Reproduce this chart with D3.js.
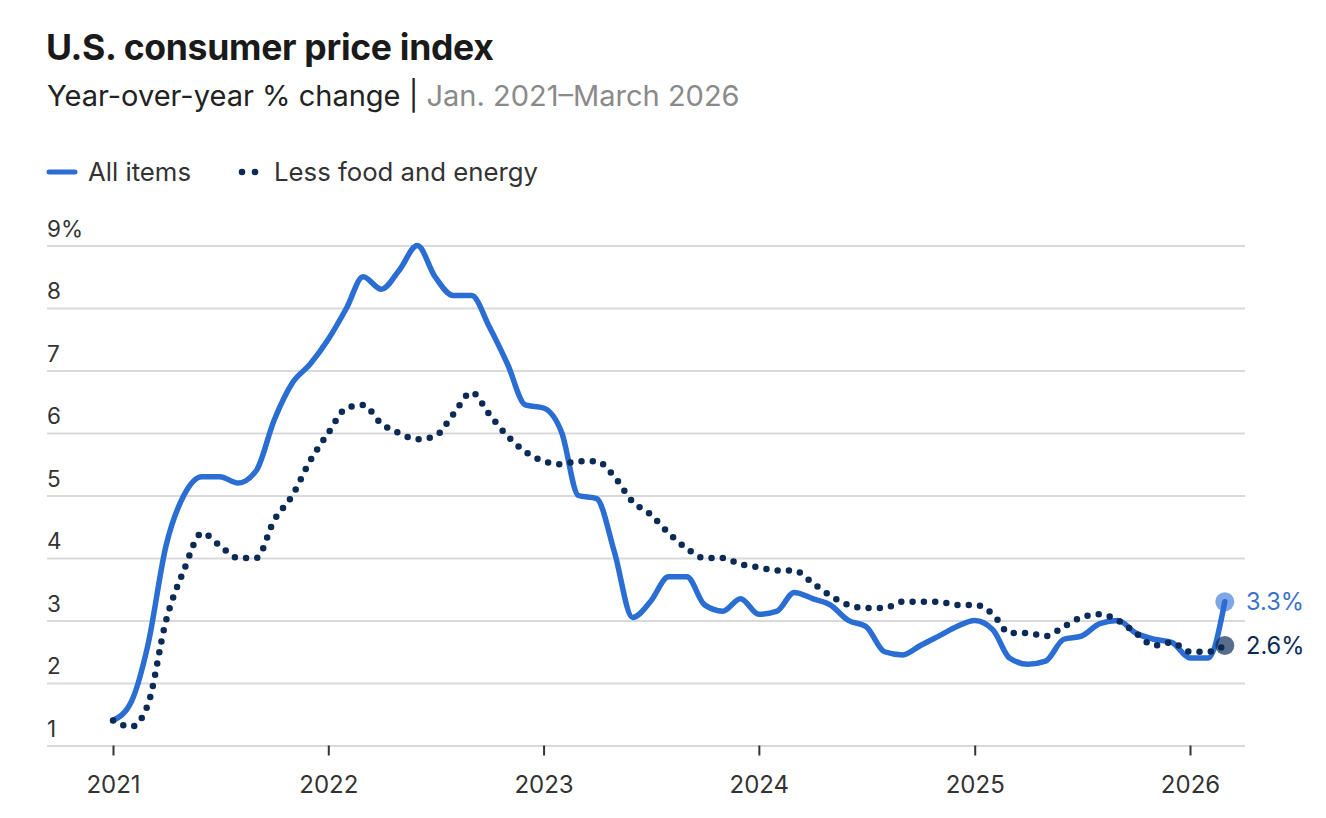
<!DOCTYPE html>
<html>
<head>
<meta charset="utf-8">
<script src="https://cdn.jsdelivr.net/npm/d3@7"></script>
<style>
  body { margin: 0; background: #fff; }
  svg { display: block; font-family: Inter, Lato, "Noto Sans", sans-serif; }
</style>
</head>
<body>
<div id="chart"></div>
<script>
// months Jan. 2021 - March 2026
const months = [
    "2021-01","2021-02","2021-03","2021-04","2021-05","2021-06","2021-07","2021-08","2021-09","2021-10","2021-11","2021-12",
    "2022-01","2022-02","2022-03","2022-04","2022-05","2022-06","2022-07","2022-08","2022-09","2022-10","2022-11","2022-12",
    "2023-01","2023-02","2023-03","2023-04","2023-05","2023-06","2023-07","2023-08","2023-09","2023-10","2023-11","2023-12",
    "2024-01","2024-02","2024-03","2024-04","2024-05","2024-06","2024-07","2024-08","2024-09","2024-10","2024-11","2024-12",
    "2025-01","2025-02","2025-03","2025-04","2025-05","2025-06","2025-07","2025-08","2025-09","2025-10","2025-11","2025-12",
    "2026-01","2026-02","2026-03"
];

// all items, yoy %
const allItems = [
    1.4, 1.7, 2.6, 4.2, 5.0, 5.3, 5.3, 5.2, 5.4, 6.2, 6.8, 7.1,
    7.5, 8.0, 8.5, 8.3, 8.6, 9.0, 8.5, 8.2, 8.2, 7.7, 7.1, 6.45,
    6.4, 6.0, 5.0, 4.95, 4.1, 3.05, 3.3, 3.7, 3.7, 3.25, 3.15, 3.35,
    3.1, 3.15, 3.45, 3.35, 3.25, 3.0, 2.9, 2.5, 2.45, 2.6, 2.75, 2.9,
    3.0, 2.85, 2.4, 2.3, 2.35, 2.7, 2.75, 2.95, 3.0, 2.8, 2.7, 2.65,
    2.4, 2.4, 3.3
];

// less food and energy, yoy %
const coreItems = [
    1.4, 1.3, 1.65, 3.0, 3.8, 4.4, 4.2, 4.0, 4.0, 4.6, 5.0, 5.55,
    6.0, 6.4, 6.45, 6.15, 6.0, 5.9, 5.95, 6.3, 6.65, 6.3, 5.95, 5.7,
    5.55, 5.5, 5.55, 5.55, 5.3, 4.9, 4.7, 4.4, 4.15, 4.0, 4.0, 3.9,
    3.85, 3.8, 3.8, 3.6, 3.4, 3.25, 3.2, 3.2, 3.3, 3.3, 3.3, 3.25,
    3.25, 3.1, 2.8, 2.8, 2.75, 2.9, 3.05, 3.1, 3.0, 2.8, 2.6, 2.65,
    2.5, 2.5, 2.6
];

const yTicks = [1, 2, 3, 4, 5, 6, 7, 8, 9];
const xTicks = ["2021", "2022", "2023", "2024", "2025", "2026"];

const seriesNames = ["All items", "Less food and energy"];
const titleText = "U.S. consumer price index";
const subtitleMain = "Year-over-year % change | ";
const subtitleRange = "Jan. 2021\u2013March 2026";

const width = 1326, height = 818;
const plot = {left: 47, right: 1245, x0: 113, x1: 1190, top: 245.5, bottom: 745.5};

const blue = "#2a6dd3";
const navy = "#0b2a55";
const parseMonth = d3.timeParse("%Y-%m");
const parseYear = d3.timeParse("%Y");

const data = months.map((m, i) => ({date: parseMonth(m), all: allItems[i], core: coreItems[i]}));

// scale a text's font size so it spans the width seen in the reference
function fitWidth(sel, target) {
    const w = sel.node().getComputedTextLength();
    const fs = parseFloat(sel.style("font-size"));
    const size = fs * target / w;
    sel.style("font-size", size.toFixed(2) + "px");
    return size;
}

const svg = d3.select("#chart").append("svg")
    .attr("width", width)
    .attr("height", height);

// title + subtitle
const title = svg.append("text")
    .attr("x", 46)
    .attr("y", 60)
    .style("font-size", "32px")
    .style("font-weight", 700)
    .style("letter-spacing", "-0.3px")
    .attr("fill", "#1a1a1a")
    .text(titleText);
fitWidth(title, 447);

const sub = svg.append("text")
    .attr("x", 47)
    .attr("y", 106)
    .style("font-size", "27px");
sub.append("tspan").attr("fill", "#222").text(subtitleMain);
sub.append("tspan").attr("fill", "#8a8a8a").text(subtitleRange);
fitWidth(sub, 693);

// legend
const legend = svg.append("g").attr("transform", "translate(0, 172)");
legend.append("line")
    .attr("x1", 49).attr("x2", 75)
    .attr("stroke", blue)
    .attr("stroke-width", 5)
    .attr("stroke-linecap", "round");
const leg1 = legend.append("text")
    .attr("x", 88).attr("y", 8.5)
    .style("font-size", "23px")
    .attr("fill", "#333")
    .text(seriesNames[0]);
fitWidth(leg1, 103);
legend.selectAll("circle")
    .data([242, 255])
    .join("circle")
    .attr("cx", d => d)
    .attr("r", 3.3)
    .attr("fill", navy);
const leg2 = legend.append("text")
    .attr("x", 274).attr("y", 8.5)
    .style("font-size", "23px")
    .attr("fill", "#333")
    .text(seriesNames[1]);
fitWidth(leg2, 264);

// scales
const x = d3.scaleTime()
    .domain([parseYear(xTicks[0]), parseYear(xTicks[xTicks.length - 1])])
    .range([plot.x0, plot.x1]);

const y = d3.scaleLinear()
    .domain([1, 9])
    .range([plot.bottom, plot.top]);

// y grid + labels
const yAxis = svg.append("g")
    .attr("transform", `translate(${plot.left}, 0)`)
    .call(d3.axisRight(y)
        .tickValues(yTicks)
        .tickSize(plot.right - plot.left)
        .tickFormat(d => d === 9 ? d + "%" : d));
yAxis.select(".domain").remove();
yAxis.selectAll(".tick line")
    .attr("stroke", "#d9d9d9")
    .attr("stroke-width", 2);
yAxis.selectAll(".tick text")
    .attr("x", 0)
    .attr("dy", -9.5)
    .attr("text-anchor", "start")
    .style("font-size", "22.5px")
    .style("font-family", "Inter, Lato, sans-serif")
    .attr("fill", "#333");

// x axis ticks
const xAxis = svg.append("g")
    .attr("transform", `translate(0, ${plot.bottom})`)
    .call(d3.axisBottom(x)
        .tickValues(xTicks.map(parseYear))
        .tickSize(10)
        .tickPadding(20.5)
        .tickFormat(d3.timeFormat("%Y")));
xAxis.select(".domain").remove();
xAxis.selectAll(".tick line")
    .attr("stroke", "#333")
    .attr("stroke-width", 2);
xAxis.selectAll(".tick text")
    .style("font-size", "24px")
    .style("font-family", "Inter, Lato, sans-serif")
    .attr("fill", "#333");

// lines
const lineAll = d3.line()
    .x(d => x(d.date))
    .y(d => y(d.all))
    .curve(d3.curveMonotoneX);

const lineCore = d3.line()
    .x(d => x(d.date))
    .y(d => y(d.core))
    .curve(d3.curveMonotoneX);

svg.append("path")
    .datum(data)
    .attr("fill", "none")
    .attr("stroke", blue)
    .attr("stroke-width", 5.5)
    .attr("stroke-linejoin", "round")
    .attr("stroke-linecap", "round")
    .attr("d", lineAll);

svg.append("path")
    .datum(data)
    .attr("fill", "none")
    .attr("stroke", navy)
    .attr("stroke-width", 6.5)
    .attr("stroke-linecap", "round")
    .attr("stroke-dasharray", "0 11.3")
    .attr("d", lineCore);

// end markers + labels
const last = data[data.length - 1];
const ends = [
    {key: "all", value: last.all, fill: blue, text: "#3b73c8"},
    {key: "core", value: last.core, fill: navy, text: navy}
];

svg.selectAll(".end-dot")
    .data(ends)
    .join("circle")
    .attr("class", "end-dot")
    .attr("cx", x(last.date))
    .attr("cy", d => y(d.value))
    .attr("r", 9.5)
    .attr("fill", d => d.fill)
    .attr("fill-opacity", d => d.key === "all" ? 0.6 : 0.68);

const endLabels = svg.selectAll(".end-label")
    .data(ends)
    .join("text")
    .attr("class", "end-label")
    .attr("x", 1246)
    .attr("y", d => y(d.value))
    .attr("dy", "0.36em")
    .style("font-size", "22px")
    .attr("fill", d => d.text)
    .text(d => d.value.toFixed(1) + "%");
const endSize = fitWidth(d3.select(endLabels.nodes()[0]), 58);
endLabels.style("font-size", endSize.toFixed(2) + "px");
</script>
</body>
</html>
